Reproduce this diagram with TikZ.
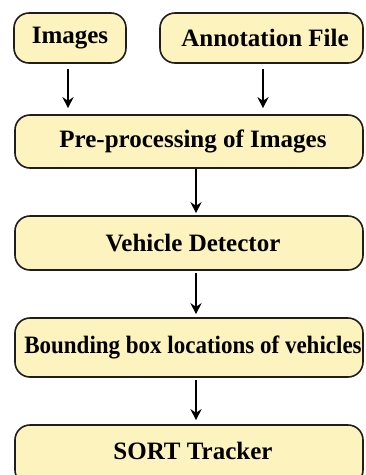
\documentclass[tikz,border=0pt]{standalone}
\usepackage{fontspec}
\setmainfont{Liberation Serif}
\usetikzlibrary{arrows.meta}
\definecolor{boxfill}{HTML}{FDF3BF}
\definecolor{boxline}{HTML}{1E1E1E}
\begin{document}
\begin{tikzpicture}[x=1pt,y=-1pt,
  stage/.style={draw=boxline,line width=1.6pt,fill=boxfill,rounded corners=15pt,
    inner sep=0pt,font=\fontsize{25}{30}\selectfont\bfseries,text=black},
  wide/.style={stage,minimum width=348pt,execute at begin node=\hspace*{8pt}},
  arr/.style={-{Stealth[length=11pt,width=11pt]},line width=1.7pt,black}]
  \useasboundingbox (0,0) rectangle (365,475);
  \fill[white] (0,0) rectangle (365,475);
  % input boxes
  \node[stage,minimum width=112pt,minimum height=50pt] (img) at (70,38) {Images};
  \node[stage,minimum width=203pt,minimum height=50pt,execute at begin node=\hspace*{7pt}] (ann) at (261.5,38) {Annotation File};
  % processing chain
  \node[wide,minimum height=53pt] (pre) at (189,141.5) {Pre-processing of Images};
  \node[wide,minimum height=54pt] (veh) at (189,243) {Vehicle Detector};
  \node[wide,minimum height=59pt] (bbx) at (189,347.5) {\scalebox{0.92}[1]{Bounding box locations of vehicles}};
  \node[wide,minimum height=60pt,text depth=9pt] (srt) at (189,455) {SORT Tracker};
  % connectors
  \coordinate (ax) at (196,0);
  \draw[arr,shorten <=5pt,shorten >=6pt] (img.south -| 68,0) -- (pre.north -| 68,0);
  \draw[arr,shorten <=5pt,shorten >=6pt] (ann.south -| 263,0) -- (pre.north -| 263,0);
  \draw[arr,shorten >=2pt] (pre.south -| ax) -- (veh.north -| ax);
  \draw[arr,shorten <=2pt,shorten >=3pt] (veh.south -| ax) -- (bbx.north -| ax);
  \draw[arr,shorten <=2pt,shorten >=4pt] (bbx.south -| ax) -- (srt.north -| ax);
\end{tikzpicture}
\end{document}
